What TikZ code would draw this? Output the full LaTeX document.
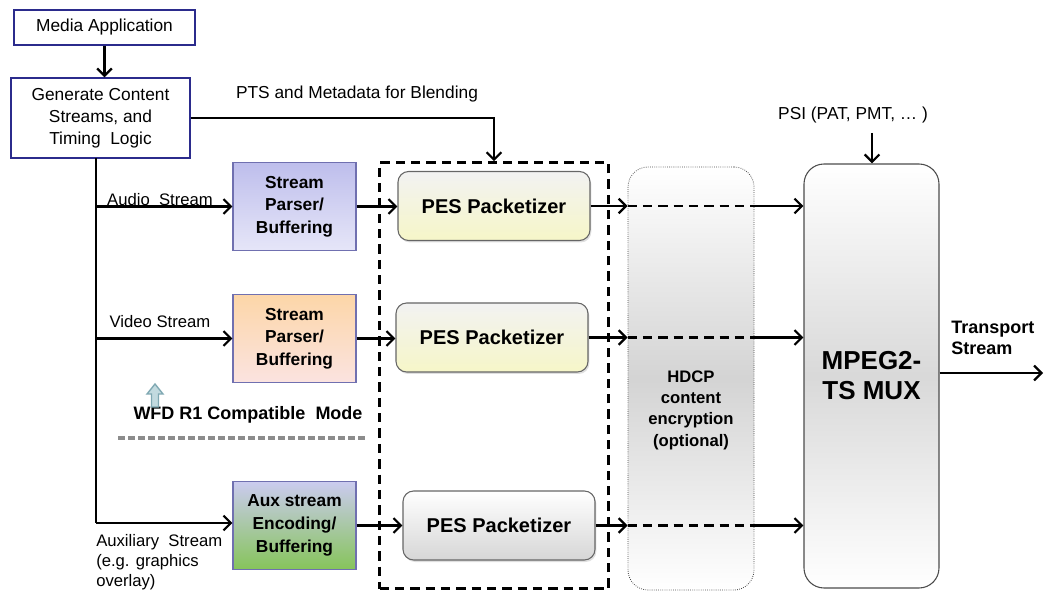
\documentclass[tikz,border=0pt]{standalone}
\usepackage{fontspec}
\setmainfont{Liberation Sans}
\usetikzlibrary{arrows.meta,shadows}
\definecolor{boxblue}{HTML}{2B2B8C}
\definecolor{spborder}{HTML}{7070B0}
\definecolor{lavtop}{HTML}{BEBEEC}
\definecolor{lavbot}{HTML}{E6E6F8}
\definecolor{ortop}{HTML}{FCD6A8}
\definecolor{ormid}{HTML}{F8A56C}
\definecolor{orbot}{HTML}{FBE3E0}
\definecolor{grnbot}{HTML}{86C45A}
\definecolor{pestop}{HTML}{F2F2F2}
\definecolor{pesbot}{HTML}{F6F6C8}
\definecolor{teal}{HTML}{7FA8B2}
\definecolor{teallight}{HTML}{C2DADF}
\begin{document}
\begin{tikzpicture}[x=0.75pt,y=-0.75pt,
  ln/.style={line width=1.7pt},
  arr/.style={ln,-{Straight Barb[length=5.5pt,width=11pt,line width=1.7pt]}},
  dln/.style={line width=1.6pt,dash pattern=on 7pt off 4.5pt},
  reg/.style={font=\fontsize{13}{16.5}\selectfont},
  small/.style={font=\fontsize{12.5}{15}\selectfont, inner sep=0pt},
  bluebox/.style={draw=boxblue, line width=1pt, fill=white, inner sep=0pt, align=center, reg},
  spbox/.style={draw=spborder, line width=0.8pt, inner sep=0pt, align=center,
     font=\bfseries\fontsize{13}{17}\selectfont, minimum width=123*0.75pt, minimum height=88*0.75pt},
  pesbox/.style={draw=black!60, line width=0.8pt, rounded corners=8pt, inner sep=0pt,
     font=\bfseries\fontsize{15}{18}\selectfont, minimum width=192*0.75pt, minimum height=69*0.75pt,
     drop shadow={opacity=0.25, shadow xshift=1pt, shadow yshift=-1.5pt}},
]
\useasboundingbox (0,0) rectangle (1050,609);

% top boxes
\node[bluebox, minimum width=181*0.75pt, minimum height=35*0.75pt] (media) at (104.5,27.5) {Media Application};
\node[bluebox, minimum width=179*0.75pt, minimum height=80*0.75pt] (gen) at (100.5,118) {Generate Content\\Streams, and\\Timing\ \ Logic};

% big dashed group box
\node[draw, line width=1.9pt, dash pattern=on 7pt off 4.5pt, minimum width=229*0.75pt, minimum height=426*0.75pt, inner sep=0pt] (grp) at (494,375.5) {};

% HDCP box
\node[draw=black!70, line width=0.6pt, densely dotted, rounded corners=15pt,
  top color=white, bottom color=white, middle color=black!17,
  minimum width=126*0.75pt, minimum height=423*0.75pt, inner sep=0pt] (hdcp) at (691,378.5) {};
\node[font=\bfseries\fontsize{12.5}{16}\selectfont, align=center] (hdcpt) at (691,410) {HDCP\\content\\encryption\\(optional)};

% MUX box
\node[draw=black!70, line width=0.8pt, rounded corners=15pt,
  top color=white, bottom color=white, middle color=black!15,
  minimum width=135*0.75pt, minimum height=424*0.75pt, inner sep=0pt,
  font=\bfseries\fontsize{19.5}{22.5}\selectfont, align=center] (mux) at (871.5,376) {MPEG2-\\TS MUX};

% stream parser boxes
\node[spbox, top color=lavtop, bottom color=lavbot] (sp1) at (294.5,206.5) {Stream\\Parser/\\Buffering};
\node[spbox, top color=ortop, middle color=ormid, bottom color=orbot] (sp2) at (294.5,338.5) {Stream\\Parser/\\Buffering};
\node[spbox, top color=lavtop!80, middle color=lavbot!70!grnbot!30, bottom color=grnbot] (aux) at (294.5,525.5) {Aux stream\\Encoding/\\Buffering};

% PES packetizers
\node[pesbox, top color=pestop, bottom color=pesbot] (pes1) at (494,206) {PES Packetizer};
\node[pesbox, top color=pestop, bottom color=pesbot] (pes2) at (492,337.5) {PES Packetizer};
\node[pesbox, top color=white, bottom color=black!16] (pes3) at (499,525.5) {PES Packetizer};

% labels
\node[reg, inner sep=0pt] (pts) at (357,94) {PTS and Metadata for Blending};
\node[reg, inner sep=0pt] (psi) at (853,115) {PSI (PAT, PMT, … )};
\node[small] (al) at (160,200) {Audio\ \ Stream};
\node[small] (vl) at (160,322) {Video Stream};
\node[small, align=left, anchor=north west] (xl) at (96,534) {Auxiliary\ \ Stream\\(e.g. graphics\\overlay)};
\node[font=\bfseries\fontsize{13.5}{16}\selectfont, align=left, anchor=west, inner sep=0pt] (tsl) at (951,338) {Transport\\Stream};
\node[font=\bfseries\fontsize{13.5}{16}\selectfont, inner sep=0pt] (wfd) at (248,415) {WFD R1 Compatible\ \ Mode};

% up arrow icon
\filldraw[fill=teallight, draw=teal, line width=1pt]
  (155,384) -- (163,394) -- (158.5,394) -- (158.5,407) -- (151.5,407) -- (151.5,394) -- (147,394) -- cycle;
% gray dashed separator
\draw[black!45, line width=2.4pt, dash pattern=on 5pt off 2.5pt] (118,438) -- (365,438);

% connectors
\draw[arr] (media.south) -- (media.south |- gen.north);
\draw[arr] (gen.east) -| (grp.north);

\coordinate (tt) at (96,158);
\coordinate (tb) at (96,523);
\draw[ln] (tt) -- (tb);
\draw[arr] (sp1.west -| tt) -- (sp1.west);
\draw[arr] (sp2.west -| tt) -- (sp2.west);
\draw[arr] (tb) -- (tb -| aux.west);

\draw[arr] (sp1.east) -- (sp1.east -| pes1.west);
\draw[arr] (sp2.east) -- (sp2.east -| pes2.west);
\draw[arr] (aux.east) -- (aux.east -| pes3.west);

\foreach \p in {pes1,pes2,pes3}{
  \draw[arr] (\p.east) -- (\p.east -| hdcp.west);
  \draw[dln] (\p.east -| hdcp.west) -- ([xshift=-3pt]\p.east -| hdcp.east);
  \draw[arr] ([xshift=-3pt]\p.east -| hdcp.east) -- (\p.east -| mux.west);
}

\coordinate (psitop) at (872,133);
\draw[arr] (psitop) -- (psitop |- mux.north);
\coordinate (tsend) at (1043,373);
\draw[arr] (mux.east |- tsend) -- (tsend);
\end{tikzpicture}
\end{document}
